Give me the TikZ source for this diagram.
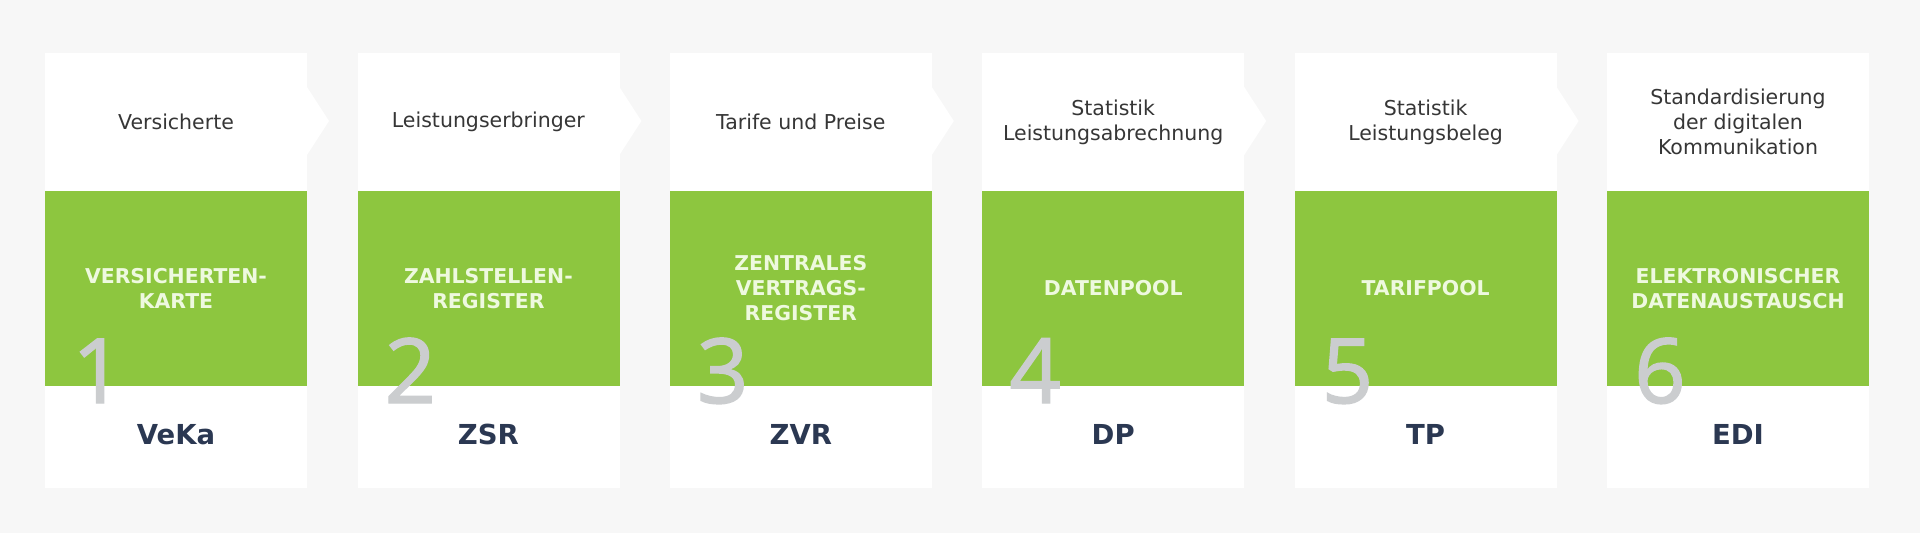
\documentclass[tikz,border=0pt]{standalone}
\usepackage{fontspec}
\setmainfont{DejaVu Sans}
\newfontfamily\digitfont[FakeBold=1.6]{Open Sans}
\definecolor{bg}{HTML}{F7F7F7}
\definecolor{vgreen}{HTML}{8DC63F}
\definecolor{htext}{HTML}{363636}
\definecolor{gtext}{HTML}{EEF9DF}
\definecolor{atext}{HTML}{2B3852}
\definecolor{dgray}{HTML}{CBCDCF}
\tikzset{
  cardbox/.style={fill=white, draw=none, minimum width=262pt, minimum height=435pt, inner sep=0pt, anchor=north west},
  greenbox/.style={fill=vgreen, draw=none, minimum width=262pt, minimum height=195pt, inner sep=0pt, anchor=north west},
  headtext/.style={text=htext, align=center, inner sep=0pt, font=\fontsize{20.5}{25}\selectfont},
  titletext/.style={text=gtext, align=center, inner sep=0pt, font=\bfseries\fontsize{20.4}{25}\selectfont},
  abbrtext/.style={text=atext, inner sep=0pt, anchor=base, font=\bfseries\fontsize{27.5}{30}\selectfont},
  digittext/.style={text=dgray, inner sep=0pt, anchor=base west, font=\digitfont\fontsize{90}{90}\selectfont},
  arrowshape/.style={fill=white, draw=none}
}
\begin{document}
\begin{tikzpicture}[x=1pt,y=-1pt]
\useasboundingbox (0,0) rectangle (1920,533);
\fill[bg] (0,0) rectangle (1920,533);
\foreach \i/\head/\title/\abbr in {
  1/{Versicherte}/{VERSICHERTEN-\\KARTE}/{VeKa},
  2/{Leistungserbringer}/{ZAHLSTELLEN-\\REGISTER}/{ZSR},
  3/{Tarife und Preise}/{ZENTRALES\\VERTRAGS-\\REGISTER}/{ZVR},
  4/{Statistik\\Leistungsabrechnung}/{DATENPOOL}/{DP},
  5/{Statistik\\Leistungsbeleg}/{TARIFPOOL}/{TP},
  6/{Standardisierung\\der digitalen\\Kommunikation}/{ELEKTRONISCHER\\DATENAUSTAUSCH}/{EDI}} {
  \pgfmathsetmacro\L{45+312.4*(\i-1)}
  \pgfmathsetmacro\C{\L+131}
  \pgfmathsetmacro\R{\L+262}
  \node[cardbox] (c\i) at (\L,53) {};
  \ifnum\i<6
    \fill[arrowshape] (\R,87) -- (\R+22,121) -- (\R,155) -- cycle;
  \fi
  \node[greenbox] (g\i) at (\L,191) {};
  \node[headtext] (h\i) at (\C,122) {\head};
  \node[titletext] (t\i) at (\C,288.5) {\title};
  \node[abbrtext] (a\i) at (\C,444) {\abbr};
  \node[digittext] (n\i) at (\L+27,403) {\i};
}
\end{tikzpicture}
\end{document}
